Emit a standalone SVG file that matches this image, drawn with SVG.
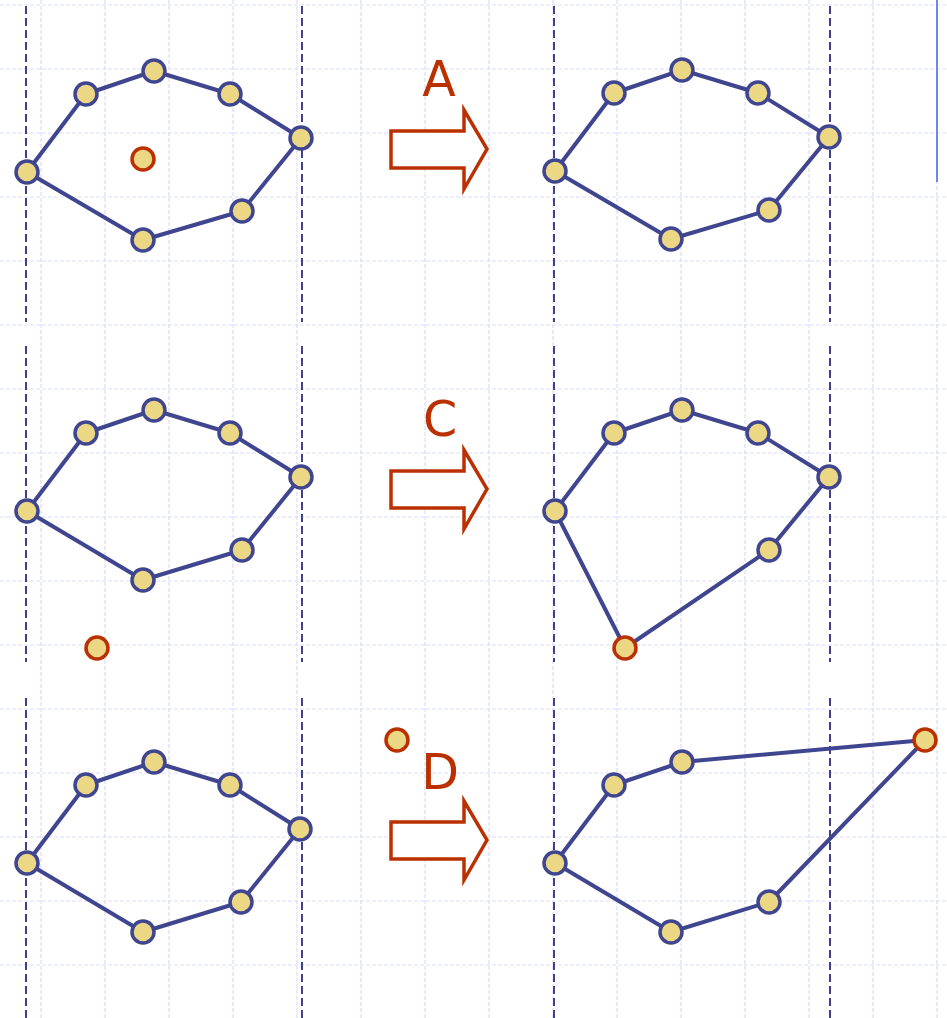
<svg xmlns="http://www.w3.org/2000/svg" width="947" height="1018" viewBox="0 0 947 1018">
<style>
.grid line{stroke:#d9ddf7;stroke-width:1.2;stroke-dasharray:4 2}
.dash{stroke:#3f4288;stroke-width:2;stroke-dasharray:8 4}
.edge{fill:none;stroke:#404590;stroke-width:4;stroke-linejoin:round}
.n{fill:#ecd785;stroke:#404590;stroke-width:3.5}
.r{fill:#ecd785;stroke:#bb3000;stroke-width:3.5}
.arrow{fill:#fff;stroke:#bb3000;stroke-width:3.5}
.lbl{font-family:'DejaVu Sans',sans-serif;font-size:49px;fill:#bb3000;text-anchor:middle}
</style>
<rect width="947" height="1018" fill="#fff"/>
<g class="grid" id="grid">
<line x1="41" y1="0" x2="41" y2="1018"/><line x1="105" y1="0" x2="105" y2="1018"/><line x1="169" y1="0" x2="169" y2="1018"/><line x1="233" y1="0" x2="233" y2="1018"/><line x1="297" y1="0" x2="297" y2="1018"/><line x1="361" y1="0" x2="361" y2="1018"/><line x1="425" y1="0" x2="425" y2="1018"/><line x1="489" y1="0" x2="489" y2="1018"/><line x1="553" y1="0" x2="553" y2="1018"/><line x1="617" y1="0" x2="617" y2="1018"/><line x1="681" y1="0" x2="681" y2="1018"/><line x1="745" y1="0" x2="745" y2="1018"/><line x1="809" y1="0" x2="809" y2="1018"/><line x1="873" y1="0" x2="873" y2="1018"/><line x1="937" y1="0" x2="937" y2="1018"/>
<line x1="0" y1="5" x2="947" y2="5"/><line x1="0" y1="69" x2="947" y2="69"/><line x1="0" y1="133" x2="947" y2="133"/><line x1="0" y1="197" x2="947" y2="197"/><line x1="0" y1="261" x2="947" y2="261"/><line x1="0" y1="325" x2="947" y2="325"/><line x1="0" y1="389" x2="947" y2="389"/><line x1="0" y1="453" x2="947" y2="453"/><line x1="0" y1="517" x2="947" y2="517"/><line x1="0" y1="581" x2="947" y2="581"/><line x1="0" y1="645" x2="947" y2="645"/><line x1="0" y1="709" x2="947" y2="709"/><line x1="0" y1="773" x2="947" y2="773"/><line x1="0" y1="837" x2="947" y2="837"/><line x1="0" y1="901" x2="947" y2="901"/><line x1="0" y1="965" x2="947" y2="965"/>
</g>
<line x1="937" y1="0" x2="937" y2="182" stroke="#6f86e8" stroke-width="2"/>
<g id="separators">
<line class="dash" x1="26" y1="6" x2="26" y2="322"/><line class="dash" x1="302" y1="6" x2="302" y2="322"/>
<line class="dash" x1="554" y1="6" x2="554" y2="322"/><line class="dash" x1="830" y1="6" x2="830" y2="322"/>
<line class="dash" x1="26" y1="346" x2="26" y2="662"/><line class="dash" x1="302" y1="346" x2="302" y2="662"/>
<line class="dash" x1="554" y1="346" x2="554" y2="662"/><line class="dash" x1="830" y1="346" x2="830" y2="662"/>
<line class="dash" x1="26" y1="698" x2="26" y2="1018"/><line class="dash" x1="302" y1="698" x2="302" y2="1018"/>
<line class="dash" x1="554" y1="698" x2="554" y2="1018"/><line class="dash" x1="830" y1="698" x2="830" y2="1018"/>
</g>
<g id="connectors">
<polygon class="edge" points="27,172 86,94 154,71 230,94 301,138 242,211 143,240"/>
<polygon class="edge" points="555,171 614,93 682,70 758,93 829,137 769,210 671,239"/>
<polygon class="edge" points="27,511 86,433 154,410 230,433 301,477 242,550 143,580"/>
<polygon class="edge" points="555,511 614,433 682,410 758,433 829,477 769,550 625,648"/>
<polygon class="edge" points="27,863 86,785 154,762 230,785 300,829 241,902 143,932"/>
<polygon class="edge" points="555,863 614,785 682,762 925,740 769,902 671,932"/>
</g>
<g id="panel-A-before">
<circle class="n" cx="27" cy="172" r="11"/><circle class="n" cx="86" cy="94" r="11"/><circle class="n" cx="154" cy="71" r="11"/><circle class="n" cx="230" cy="94" r="11"/><circle class="n" cx="301" cy="138" r="11"/><circle class="n" cx="242" cy="211" r="11"/><circle class="n" cx="143" cy="240" r="11"/>
<circle class="r" cx="143" cy="159" r="11"/>
</g>
<g id="panel-A-after">
<circle class="n" cx="555" cy="171" r="11"/><circle class="n" cx="614" cy="93" r="11"/><circle class="n" cx="682" cy="70" r="11"/><circle class="n" cx="758" cy="93" r="11"/><circle class="n" cx="829" cy="137" r="11"/><circle class="n" cx="769" cy="210" r="11"/><circle class="n" cx="671" cy="239" r="11"/>
</g>
<g id="panel-C-before">
<circle class="n" cx="27" cy="511" r="11"/><circle class="n" cx="86" cy="433" r="11"/><circle class="n" cx="154" cy="410" r="11"/><circle class="n" cx="230" cy="433" r="11"/><circle class="n" cx="301" cy="477" r="11"/><circle class="n" cx="242" cy="550" r="11"/><circle class="n" cx="143" cy="580" r="11"/>
<circle class="r" cx="97" cy="648" r="11"/>
</g>
<g id="panel-C-after">
<circle class="n" cx="555" cy="511" r="11"/><circle class="n" cx="614" cy="433" r="11"/><circle class="n" cx="682" cy="410" r="11"/><circle class="n" cx="758" cy="433" r="11"/><circle class="n" cx="829" cy="477" r="11"/><circle class="n" cx="769" cy="550" r="11"/>
<circle class="r" cx="625" cy="648" r="11"/>
</g>
<g id="panel-D-before">
<circle class="n" cx="27" cy="863" r="11"/><circle class="n" cx="86" cy="785" r="11"/><circle class="n" cx="154" cy="762" r="11"/><circle class="n" cx="230" cy="785" r="11"/><circle class="n" cx="300" cy="829" r="11"/><circle class="n" cx="241" cy="902" r="11"/><circle class="n" cx="143" cy="932" r="11"/>
<circle class="r" cx="397" cy="740" r="11"/>
</g>
<g id="panel-D-after">
<circle class="n" cx="555" cy="863" r="11"/><circle class="n" cx="614" cy="785" r="11"/><circle class="n" cx="682" cy="762" r="11"/><circle class="n" cx="769" cy="902" r="11"/><circle class="n" cx="671" cy="932" r="11"/>
<circle class="r" cx="925" cy="740" r="11"/>
</g>
<g id="arrow-A">
<polygon class="arrow" points="391,131 464,131 464,110 487,149 464,189 464,168 391,168"/>
<text class="lbl" x="439" y="96">A</text>
</g>
<g id="arrow-C">
<polygon class="arrow" points="391,471 464,471 464,450 487,489 464,529 464,508 391,508"/>
<text class="lbl" x="440" y="436">C</text>
</g>
<g id="arrow-D">
<polygon class="arrow" points="391,822 464,822 464,801 487,840 464,880 464,859 391,859"/>
<text class="lbl" x="440" y="789">D</text>
</g>
</svg>
